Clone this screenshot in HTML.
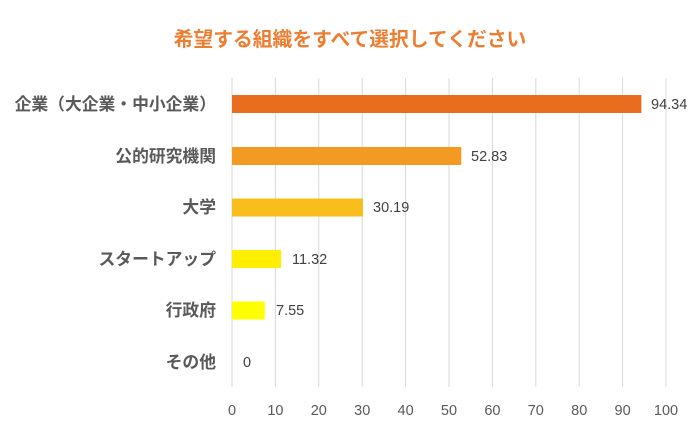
<!DOCTYPE html>
<html><head><meta charset="utf-8"><style>
html,body{margin:0;padding:0;background:#fff;}
</style></head><body>
<svg width="700" height="440" xmlns="http://www.w3.org/2000/svg" style="display:block">
<rect width="700" height="440" fill="#fff"/>
<text x="350" y="46" text-anchor="middle" font-family="Liberation Sans, Noto Sans CJK JP, sans-serif" font-size="19.8" font-weight="bold" fill="#ED7D31">希望する組織をすべて選択してください</text>
<g stroke="#d9d9d9" stroke-width="1">
<line x1="232" y1="78" x2="232" y2="387"/>
<line x1="275.4" y1="78" x2="275.4" y2="387"/>
<line x1="318.8" y1="78" x2="318.8" y2="387"/>
<line x1="362.2" y1="78" x2="362.2" y2="387"/>
<line x1="405.6" y1="78" x2="405.6" y2="387"/>
<line x1="449" y1="78" x2="449" y2="387"/>
<line x1="492.4" y1="78" x2="492.4" y2="387"/>
<line x1="535.8" y1="78" x2="535.8" y2="387"/>
<line x1="579.2" y1="78" x2="579.2" y2="387"/>
<line x1="622.6" y1="78" x2="622.6" y2="387"/>
<line x1="666" y1="78" x2="666" y2="387"/>
</g>
<rect x="232" y="95" width="409.4" height="18" fill="#EA6C1F"/>
<rect x="232" y="147" width="229.3" height="18" fill="#F29A22"/>
<rect x="232" y="198.5" width="131" height="18" fill="#F9BE1C"/>
<rect x="232" y="250" width="49.1" height="18" fill="#FFEE00"/>
<rect x="232" y="301.5" width="32.8" height="18" fill="#FFFF00"/>
<g font-family="Liberation Sans, sans-serif" font-size="14.5" fill="#404040">
<text x="651" y="109">94.34</text>
<text x="471" y="161">52.83</text>
<text x="373" y="212">30.19</text>
<text x="292" y="264">11.32</text>
<text x="276" y="315">7.55</text>
<text x="243" y="367">0</text>
</g>
<g font-family="Liberation Sans, Noto Sans CJK JP, sans-serif" font-size="16.8" font-weight="bold" fill="#595959" text-anchor="end">
<text x="216" y="110">企業（大企業・中小企業）</text>
<text x="216" y="162">公的研究機関</text>
<text x="216" y="213">大学</text>
<text x="216" y="265">スタートアップ</text>
<text x="216" y="316">行政府</text>
<text x="216" y="368">その他</text>
</g>
<g font-family="Liberation Sans, sans-serif" font-size="14.5" fill="#595959" text-anchor="middle">
<text x="232" y="415">0</text>
<text x="275.4" y="415">10</text>
<text x="318.8" y="415">20</text>
<text x="362.2" y="415">30</text>
<text x="405.6" y="415">40</text>
<text x="449" y="415">50</text>
<text x="492.4" y="415">60</text>
<text x="535.8" y="415">70</text>
<text x="579.2" y="415">80</text>
<text x="622.6" y="415">90</text>
<text x="666" y="415">100</text>
</g>
</svg>
</body></html>
